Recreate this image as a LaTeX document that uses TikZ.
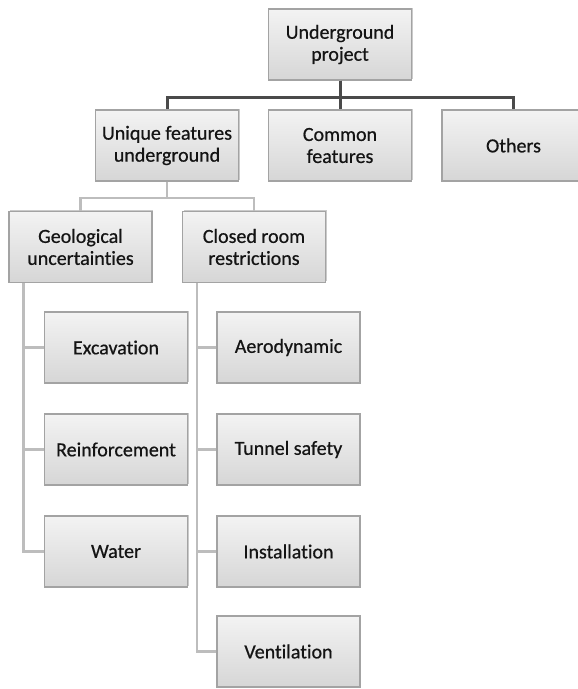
\documentclass[tikz,border=0pt]{standalone}
\usepackage{fontspec}
\setmainfont{Carlito}[Ligatures=NoCommon]
\newfontfamily\boxfont{Carlito}[Ligatures=NoCommon, FakeBold=0.6]
\usetikzlibrary{shadows}
\definecolor{boxborder}{HTML}{A3A3A3}
\definecolor{boxtop}{HTML}{F3F3F3}
\definecolor{boxbot}{HTML}{D6D6D6}
\definecolor{darkline}{HTML}{4A4A4A}
\definecolor{lightline}{HTML}{BDBDBD}
\definecolor{txt}{HTML}{141414}
\tikzset{
  box/.style={rectangle, draw=boxborder, line width=1.3pt, top color=boxtop, bottom color=boxbot,
    minimum width=143pt, minimum height=71pt, align=center, text=txt,
    font=\boxfont\fontsize{20}{22}\selectfont, inner sep=2pt,
    drop shadow={shadow xshift=1.2pt, shadow yshift=1.5pt, opacity=0.35, fill=black!60}},
  darkconn/.style={draw=darkline, line width=3pt},
  lightconn/.style={draw=lightline, line width=2.6pt}
}
\begin{document}
\begin{tikzpicture}[x=1pt,y=-1pt]
\useasboundingbox (0,0) rectangle (578,689);
% nodes
\node[box] (top) at (340,44.5) {Underground\\project};
\node[box] (uniq) at (167,145.5) {Unique features\\underground};
\node[box] (comm) at (340,145.5) {Common\\features};
\node[box] (oth) at (513.5,145.5) {Others};
\node[box] (geo) at (80.5,247) {Geological\\uncertainties};
\node[box] (clo) at (254,247) {Closed room\\restrictions};
\node[box] (exc) at (116,347.5) {Excavation};
\node[box] (rei) at (116,449.5) {Reinforcement};
\node[box] (wat) at (116,551.5) {Water};
\node[box] (aer) at (288.5,347.5) {Aerodynamic};
\node[box] (tun) at (288.5,449.5) {Tunnel safety};
\node[box] (ins) at (288.5,551.5) {Installation};
\node[box] (ven) at (288.5,651.5) {Ventilation};
% connectors
\draw[darkconn] (top.south) -- ++(0,16.5) -| (uniq.north);
\draw[darkconn] (top.south) -- ++(0,16.5) -| (oth.north);
\draw[darkconn] (top.south) -- (comm.north);
\draw[lightconn] (uniq.south) -- ++(0,16.5) -| (geo.north);
\draw[lightconn] (uniq.south) -- ++(0,16.5) -| (clo.north);
\draw[lightconn] ([xshift=15pt]geo.south west) |- (exc.west);
\draw[lightconn] ([xshift=15pt]geo.south west) |- (rei.west);
\draw[lightconn] ([xshift=15pt]geo.south west) |- (wat.west);
\draw[lightconn] ([xshift=15pt]clo.south west) |- (aer.west);
\draw[lightconn] ([xshift=15pt]clo.south west) |- (tun.west);
\draw[lightconn] ([xshift=15pt]clo.south west) |- (ins.west);
\draw[lightconn] ([xshift=15pt]clo.south west) |- (ven.west);
\end{tikzpicture}
\end{document}
